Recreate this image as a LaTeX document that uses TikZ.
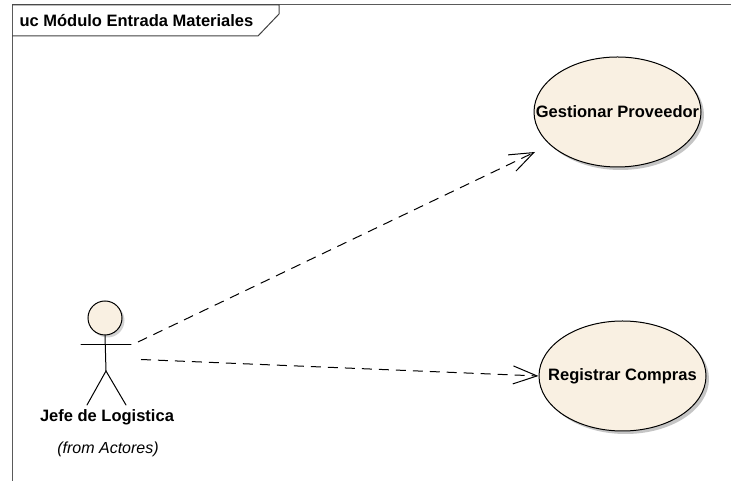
\documentclass[tikz,border=0pt]{standalone}
\usepackage{fontspec}
\setmainfont{Liberation Sans}
\usetikzlibrary{arrows.meta,shapes.geometric,shadows}
\definecolor{ucfill}{RGB}{249,240,226}
\definecolor{ucframe}{RGB}{90,90,90}
\newcommand{\ucname}[1]{\makebox[0pt]{\raisebox{-1.5pt}{#1}}}
\tikzstyle{usecase} = [ellipse,draw=black,line width=1pt,fill=ucfill,inner sep=0pt,minimum width=167pt,minimum height=110pt,
    drop shadow={shadow xshift=3pt,shadow yshift=-3pt,fill=black!45},font=\fontsize{16.5}{18}\selectfont\bfseries]
\tikzstyle{depend} = [line width=1pt,dash pattern=on 10pt off 7pt,-{Straight Barb[length=24pt,width=18pt]}]
\tikzstyle{limb} = [line width=1pt,line cap=round]

\begin{document}
\begin{tikzpicture}[x=1pt,y=1pt]
\useasboundingbox (0,0) rectangle (731,481);

% Frame
\draw[line width=1pt, ucframe] (731,476) -- (12,476) -- (12,0);
\draw[line width=1pt, black!75] (12,476) -- (279,476) -- (279,467) -- (258,445) -- (12,445);
\node[anchor=west, font=\fontsize{16.5}{18}\selectfont\bfseries] (title) at (16,460) {uc Módulo Entrada Materiales};

% Actor
\node[circle, draw=black, line width=1pt, fill=ucfill, minimum size=34pt, inner sep=0pt,
    drop shadow={shadow xshift=2.5pt,shadow yshift=-2.5pt,fill=black!35}] (head) at (105,163) {};
\coordinate (hip) at (106,110);
\coordinate (armL) at (81,136);
\coordinate (armR) at (131,136);
\coordinate (legL) at (87,76);
\coordinate (legR) at (126,76);
\draw[limb] (head.south) -- (hip);
\draw[limb] (armL) -- (armR);
\draw[limb] (legL) -- (hip) -- (legR);
\node[font=\fontsize{16.5}{18}\selectfont\bfseries] (jefe) at (107,64) {Jefe de Logistica};
\node[font=\fontsize{16}{18}\selectfont\itshape] (from) at (108,32) {(from Actores)};

% Use cases
\node[usecase] (gestionar) at (617.5,369) {\ucname{Gestionar Proveedor}};
\node[usecase] (registrar) at (622.5,105) {\ucname{Registrar Compras}};

% Dependencies
\coordinate (startG) at (138,139);
\coordinate (startR) at (141,121.5);
\coordinate (endG) at (535,329);
\draw[depend] (startG) -- (endG);
\draw[depend] (startR) -- (registrar.west);
\end{tikzpicture}
\end{document}
